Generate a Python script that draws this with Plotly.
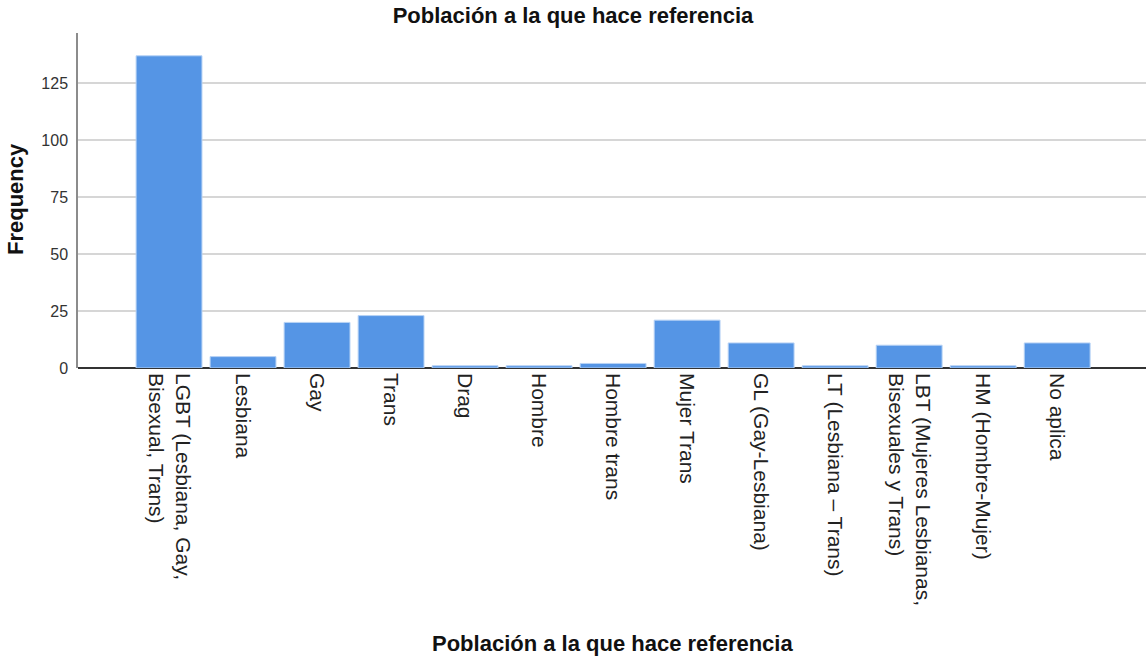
import plotly.graph_objects as go

categories = [
    "LGBT (Lesbiana, Gay,<br>Bisexual, Trans)",
    "Lesbiana",
    "Gay",
    "Trans",
    "Drag",
    "Hombre",
    "Hombre trans",
    "Mujer Trans",
    "GL (Gay-Lesbiana)",
    "LT (Lesbiana – Trans)",
    "LBT (Mujeres Lesbianas,<br>Bisexuales y Trans)",
    "HM (Hombre-Mujer)",
    "No aplica",
]
frequency = [137, 5, 20, 23, 1, 1, 2, 21, 11, 1, 10, 1, 11]
y_ticks = [0, 25, 50, 75, 100, 125]

title_text = "Población a la que hace referencia"
x_title = "Población a la que hace referencia"
y_title = "Frequency"

FONT = "Liberation Sans, Arial, sans-serif"
L, R, T, B = 78, 0, 33, 290
W, H = 1146, 658
plot_w = W - L - R
plot_h = H - T - B

fig = go.Figure(
    go.Bar(
        x=categories,
        y=frequency,
        marker=dict(color="#5595E5", line=dict(color="#B8D3F5", width=1)),
        width=0.89,
    )
)

fig.update_layout(
    width=W,
    height=H,
    margin=dict(l=L, r=R, t=T, b=B),
    paper_bgcolor="white",
    plot_bgcolor="white",
    showlegend=False,
    font=dict(family=FONT, color="#222222"),
    title=dict(
        text=title_text,
        x=0.5,
        xanchor="center",
        y=1 - 15 / H,
        yanchor="middle",
        font=dict(size=22, color="#111111", family=FONT, weight="bold"),
    ),
    annotations=[
        dict(
            text=x_title, xref="paper", yref="paper",
            x=0.5, y=-(643 - (T + plot_h)) / plot_h,
            xanchor="center", yanchor="middle", showarrow=False,
            font=dict(size=22, color="#111111", family=FONT, weight="bold"),
        ),
        dict(
            text=y_title, xref="paper", yref="paper",
            x=(15 - L) / plot_w, y=1 - (199 - T) / plot_h,
            xanchor="center", yanchor="middle", showarrow=False, textangle=-90,
            font=dict(size=22, color="#111111", family=FONT, weight="bold"),
        ),
    ],
)

fig.update_xaxes(
    range=[-1.23, 13.2],
    tickangle=90,
    tickfont=dict(size=21, color="#222222"),
    ticklabelstandoff=4,
    showgrid=False,
    showline=False,
    ticks="",
    automargin=False,
)

fig.update_yaxes(
    range=[0, 147],
    tickvals=y_ticks,
    tickfont=dict(size=16, color="#333333"),
    ticklabelstandoff=5,
    showgrid=True,
    gridcolor="#D6D6D6",
    gridwidth=1.5,
    showline=True,
    linecolor="#8C8C8C",
    linewidth=1.5,
    ticks="",
    zeroline=True,
    zerolinecolor="#333333",
    zerolinewidth=1.5,
    automargin=False,
)

fig.write_html(
    "out.html",
    config={"displayModeBar": False},
    post_script="document.body.style.margin='0';document.body.style.padding='0';",
)
